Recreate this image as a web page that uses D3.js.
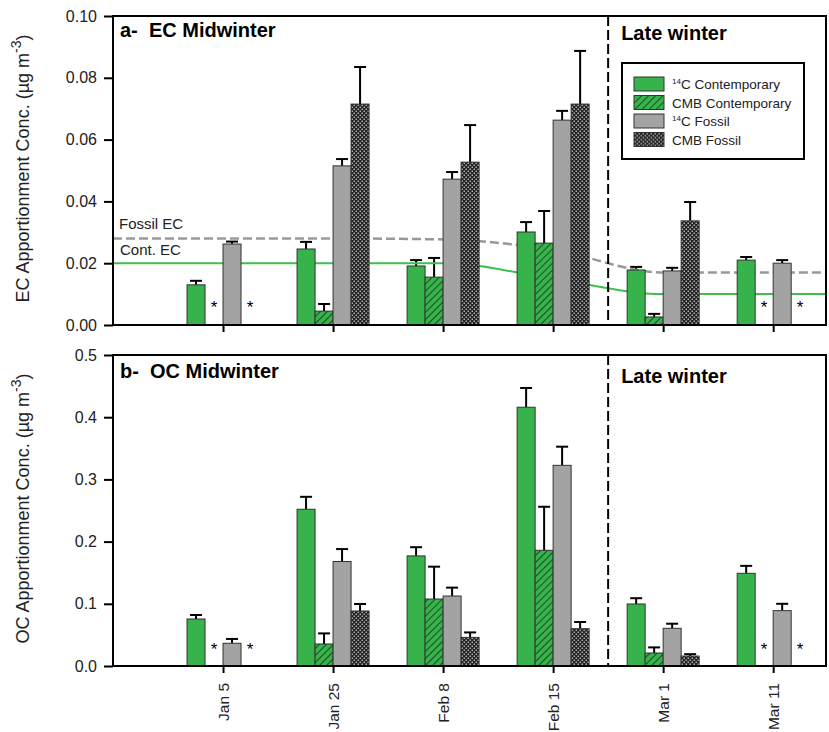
<!DOCTYPE html>
<html>
<head>
<meta charset="utf-8">
<script src="https://cdn.jsdelivr.net/npm/d3@7"></script>
<style>
  body { margin: 0; background: #fff; }
  svg { display: block; font-family: Arial, "Liberation Sans", sans-serif; }
</style>
</head>
<body>
<svg id="chart" width="829" height="732"></svg>
<script>
// categories
const dates = ['Jan 5', 'Jan 25', 'Feb 8', 'Feb 15', 'Mar 1', 'Mar 11'];
const seriesKeys = ['c14Cont', 'cmbCont', 'c14Fos', 'cmbFos'];
const seriesLabels = ['Contemporary', 'CMB Contemporary', 'Fossil', 'CMB Fossil'];

// EC (panel a)
const ecC14Cont = [0.013, 0.0246, 0.0191, 0.0301, 0.0178, 0.021];
const ecC14ContErr = [0.0013, 0.0023, 0.0019, 0.0032, 0.001, 0.001];
const ecCmbCont = [null, 0.0045, 0.0155, 0.0265, 0.0026, null];
const ecCmbContErr = [null, 0.0023, 0.0062, 0.0104, 0.001, null];
const ecC14Fos = [0.0262, 0.0515, 0.0472, 0.0663, 0.0175, 0.020];
const ecC14FosErr = [0.0008, 0.0022, 0.0023, 0.003, 0.001, 0.001];
const ecCmbFos = [null, 0.0715, 0.0527, 0.0715, 0.0337, null];
const ecCmbFosErr = [null, 0.012, 0.012, 0.0172, 0.0061, null];

// OC (panel b)
const ocC14Cont = [0.0756, 0.252, 0.177, 0.416, 0.0997, 0.149];
const ocC14ContErr = [0.0064, 0.02, 0.014, 0.031, 0.0093, 0.012];
const ocCmbCont = [null, 0.0354, 0.1077, 0.186, 0.0209, null];
const ocCmbContErr = [null, 0.017, 0.052, 0.07, 0.009, null];
const ocC14Fos = [0.0365, 0.168, 0.1125, 0.3226, 0.0606, 0.089];
const ocC14FosErr = [0.007, 0.02, 0.0135, 0.03, 0.0074, 0.011];
const ocCmbFos = [null, 0.0884, 0.046, 0.060, 0.016, null];
const ocCmbFosErr = [null, 0.0113, 0.008, 0.0107, 0.003, null];

// reference lines in panel a (x in date-index units, 0 = left edge)
const refLineX = [0, 1, 2, 3, 4, 5, 6, 6.48];
const fossilEC = [0.028, 0.028, 0.028, 0.0277, 0.0243, 0.017, 0.017, 0.017];
const contEC = [0.020, 0.020, 0.020, 0.020, 0.015, 0.010, 0.010, 0.010];

const ecTicks = [0, 0.02, 0.04, 0.06, 0.08, 0.10];
const ocTicks = [0, 0.1, 0.2, 0.3, 0.4, 0.5];

const green = '#36b34a';
const grey = '#a3a3a3';

const svg = d3.select('#chart');
const defs = svg.append('defs');

// hatch /// on green
const hatch = defs.append('pattern')
  .attr('id', 'hatch').attr('patternUnits', 'userSpaceOnUse')
  .attr('width', 5).attr('height', 5)
  .attr('patternTransform', 'rotate(45)');
hatch.append('rect').attr('width', 5).attr('height', 5).attr('fill', green);
hatch.append('line').attr('x1', 0).attr('y1', 0).attr('x2', 0).attr('y2', 5)
  .attr('stroke', '#111').attr('stroke-width', 1.3);

// checkered cross hatch
const cross = defs.append('pattern')
  .attr('id', 'cross').attr('patternUnits', 'userSpaceOnUse')
  .attr('width', 4).attr('height', 4);
cross.append('rect').attr('width', 4).attr('height', 4).attr('fill', '#222');
cross.append('rect').attr('x', 0.5).attr('y', 0.5).attr('width', 1.5).attr('height', 1.5).attr('fill', '#b0b0b0');
cross.append('rect').attr('x', 2.5).attr('y', 2.5).attr('width', 1.5).attr('height', 1.5).attr('fill', '#b0b0b0');

const fills = { c14Cont: green, cmbCont: 'url(#hatch)', c14Fos: grey, cmbFos: 'url(#cross)' };

const left = 113, right = 826;
const W = right - left;

const x = d3.scaleLinear().domain([0, 6.48]).range([0, W]);
const slot = d3.scaleBand().domain(seriesKeys).range([-36, 36]);

function drawPanel(cfg) {
  const H = cfg.bottom - cfg.top;
  const g = svg.append('g').attr('transform', `translate(${left},${cfg.top})`);
  const y = d3.scaleLinear().domain(cfg.domain).range([H, 0]);

  const rows = [];
  dates.forEach((d, i) => {
    seriesKeys.forEach(k => {
      rows.push({ i, key: k, v: cfg.values[k][i], e: cfg.errs[k][i] });
    });
  });
  const present = rows.filter(r => r.v !== null);
  const missing = rows.filter(r => r.v === null);

  // error bars (upper only)
  const eb = g.append('g').selectAll('g').data(present).enter().append('g')
    .attr('transform', r => `translate(${x(r.i + 1) + slot(r.key) + slot.bandwidth() / 2},0)`);
  eb.append('line').attr('x1', 0).attr('x2', 0)
    .attr('y1', r => y(r.v)).attr('y2', r => y(r.v + r.e))
    .attr('stroke', '#000').attr('stroke-width', 2);
  eb.append('line').attr('x1', -6).attr('x2', 6)
    .attr('y1', r => y(r.v + r.e)).attr('y2', r => y(r.v + r.e))
    .attr('stroke', '#000').attr('stroke-width', 2);

  if (cfg.lines) cfg.lines(g, y);

  g.append('g').selectAll('rect').data(present).enter().append('rect')
    .attr('x', r => x(r.i + 1) + slot(r.key))
    .attr('y', r => y(r.v))
    .attr('width', slot.bandwidth())
    .attr('height', r => H - y(r.v))
    .attr('fill', r => fills[r.key])
    .attr('stroke', '#333').attr('stroke-width', 1);

  g.append('g').selectAll('text').data(missing).enter().append('text')
    .attr('x', r => x(r.i + 1) + slot(r.key) + slot.bandwidth() / 2)
    .attr('y', H - cfg.starLift)
    .attr('text-anchor', 'middle')
    .attr('font-size', 17)
    .text('*');

  // divider midwinter / late winter
  g.append('line').attr('x1', x(4.5)).attr('x2', x(4.5)).attr('y1', 0).attr('y2', H)
    .attr('stroke', '#000').attr('stroke-width', 2).attr('stroke-dasharray', '10,4');

  // axes
  const ya = g.append('g').call(d3.axisLeft(y).tickValues(cfg.ticks).tickFormat(d3.format(cfg.fmt)).tickSize(9).tickSizeOuter(0));
  ya.selectAll('text').attr('font-size', 16).attr('fill', '#222').attr('x', -16);
  ya.selectAll('line').attr('stroke-width', 2);
  ya.select('.domain').remove();

  const xa = g.append('g').attr('transform', `translate(0,${H})`)
    .call(d3.axisBottom(x).tickValues([1, 2, 3, 4, 5, 6]).tickFormat(i => dates[i - 1]).tickSize(7).tickSizeOuter(0));
  xa.select('.domain').remove();
  xa.selectAll('line').attr('stroke-width', 2);
  if (cfg.xLabels) {
    xa.selectAll('text')
      .attr('font-size', 15.5).attr('fill', '#222')
      .attr('text-anchor', 'end')
      .attr('transform', 'rotate(-90)')
      .attr('x', -17).attr('y', 0).attr('dy', '0.35em');
  } else {
    xa.selectAll('text').remove();
  }

  // frame
  g.append('rect').attr('width', W).attr('height', H)
    .attr('fill', 'none').attr('stroke', '#000').attr('stroke-width', 2);

  g.append('text').attr('x', 7).attr('y', cfg.titleY)
    .attr('font-size', 20).attr('font-weight', 'bold').attr('xml:space', 'preserve')
    .text(cfg.title);
  g.append('text').attr('x', x(4.5) + 13).attr('y', cfg.lateY)
    .attr('font-size', 20).attr('font-weight', 'bold')
    .text('Late winter');

  // y title
  const yt = svg.append('text')
    .attr('transform', `translate(29,${cfg.top + H / 2 - 2}) rotate(-90)`)
    .attr('text-anchor', 'middle').attr('font-size', 18).attr('fill', '#222');
  yt.append('tspan').text(cfg.yTitle + ' Apportionment Conc. (µg m');
  yt.append('tspan').attr('dy', -8).attr('font-size', 14).text('-3');
  yt.append('tspan').attr('dy', 8).text(')');

  return { g, y, H };
}

drawPanel({
  top: 16, bottom: 325, domain: [0, 0.10], ticks: ecTicks, fmt: '.2f',
  values: { c14Cont: ecC14Cont, cmbCont: ecCmbCont, c14Fos: ecC14Fos, cmbFos: ecCmbFos },
  errs: { c14Cont: ecC14ContErr, cmbCont: ecCmbContErr, c14Fos: ecC14FosErr, cmbFos: ecCmbFosErr },
  title: 'a-  EC Midwinter', titleY: 21, lateY: 24, yTitle: 'EC', xLabels: false, starLift: 12,
  lines: (g, y) => {
    const pts = ys => refLineX.map((v, i) => [x(v), y(ys[i])]);
    const line = d3.line().curve(d3.curveMonotoneX);
    g.append('path').attr('d', line(pts(fossilEC)))
      .attr('fill', 'none').attr('stroke', '#999').attr('stroke-width', 2.5).attr('stroke-dasharray', '9,4');
    g.append('path').attr('d', line(pts(contEC)))
      .attr('fill', 'none').attr('stroke', '#3fbf4c').attr('stroke-width', 2);
    g.append('text').attr('x', 6).attr('y', y(0.028) - 9).attr('font-size', 15).attr('fill', '#222').text('Fossil EC');
    g.append('text').attr('x', 7).attr('y', y(0.020) - 8).attr('font-size', 15).attr('fill', '#222').text('Cont. EC');
  }
});

drawPanel({
  top: 355, bottom: 666, domain: [0, 0.5], ticks: ocTicks, fmt: '.1f',
  values: { c14Cont: ocC14Cont, cmbCont: ocCmbCont, c14Fos: ocC14Fos, cmbFos: ocCmbFos },
  errs: { c14Cont: ocC14ContErr, cmbCont: ocCmbContErr, c14Fos: ocC14FosErr, cmbFos: ocCmbFosErr },
  title: 'b-  OC Midwinter', titleY: 23, lateY: 28, yTitle: 'OC', xLabels: true, starLift: 11
});

// legend
const lg = svg.append('g').attr('transform', 'translate(622,63)');
lg.append('rect').attr('width', 182).attr('height', 96)
  .attr('fill', '#fff').attr('stroke', '#000').attr('stroke-width', 2);
seriesKeys.forEach((k, i) => {
  const row = lg.append('g').attr('transform', `translate(12,${14 + i * 18.5})`);
  row.append('rect').attr('width', 30).attr('height', 14)
    .attr('fill', fills[k]).attr('stroke', '#333').attr('stroke-width', 1);
  const t = row.append('text').attr('x', 38).attr('y', 12).attr('font-size', 13.5).attr('fill', '#222');
  if (k.startsWith('c14')) {
    t.append('tspan').attr('font-size', 8).attr('dy', -5).text('14');
    t.append('tspan').attr('dy', 5).text('C ' + seriesLabels[i]);
  } else {
    t.text(seriesLabels[i]);
  }
});
</script>
</body>
</html>
